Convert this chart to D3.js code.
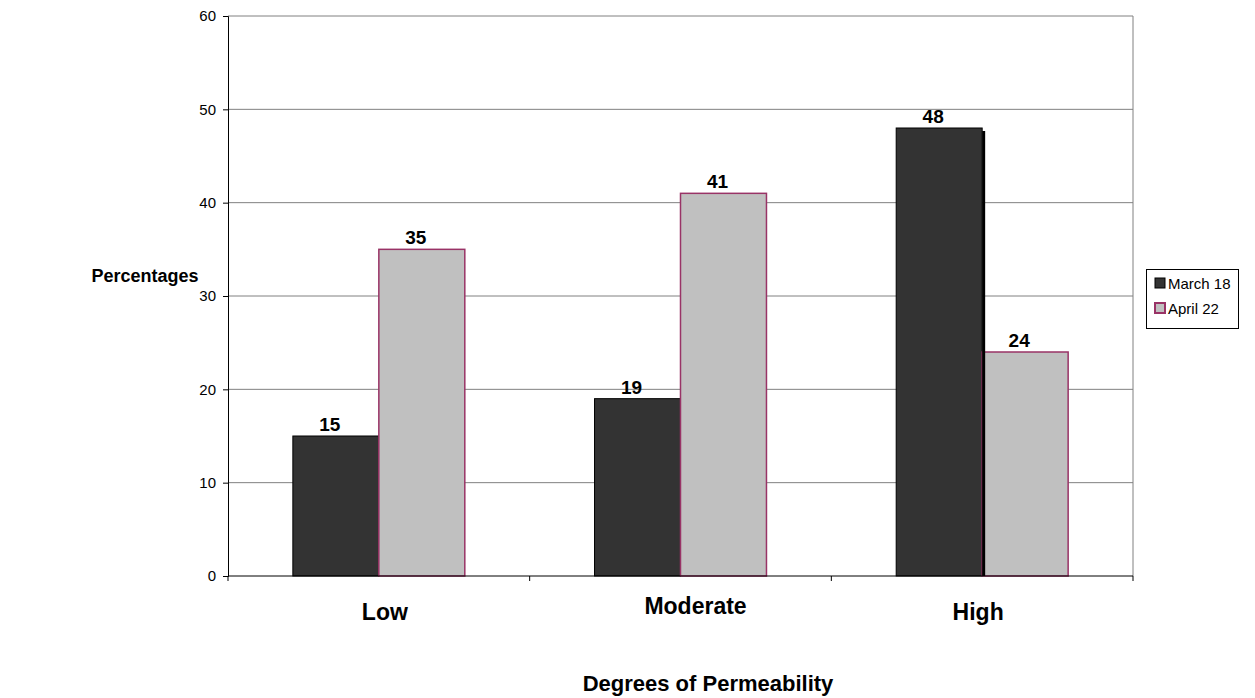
<!DOCTYPE html>
<html><head><meta charset="utf-8">
<script src="https://cdn.jsdelivr.net/npm/d3@7"></script>
<style>body{margin:0;background:#fff;} text{font-family:"Liberation Sans",Arial,sans-serif;}</style>
</head><body>
<svg id="c" width="1255" height="698"></svg>
<script>
const categories = ["Low", "Moderate", "High"];
const seriesNames = ["March 18", "April 22"];
const march18 = [15, 19, 48];
const april22 = [35, 41, 24];
const yTicks = [0, 10, 20, 30, 40, 50, 60];

const svg = d3.select("#c");
const L = 228, R = 1133, T = 16, B = 576;
const x = d3.scaleBand().domain(categories).range([L, R]).paddingInner(0).paddingOuter(0);
const y = d3.scaleLinear().domain([0, 60]).range([B, T]);
const bw = x.bandwidth();
const barW = bw * 0.285;
const off = (bw - 2 * barW) / 2;
const fills = ["#333333", "#c0c0c0"];
const strokes = ["#000000", "#993366"];
const catNudgeX = [6, 15, -4];
const catNudgeY = [0, -6, 0];

// gridlines
svg.append("g").selectAll("line").data(yTicks.slice(1)).join("line")
  .attr("x1", L).attr("x2", R).attr("y1", d => y(d)).attr("y2", d => y(d))
  .attr("stroke", "#808080").attr("stroke-width", 1);
svg.append("line").attr("x1", R).attr("x2", R).attr("y1", T).attr("y2", B).attr("stroke", "#808080");

const data = categories.map((c, i) => ({c, v: [march18[i], april22[i]]}));
data.forEach(d => {
  d.v.forEach((v, s) => {
    const x0 = x(d.c) + off + s * barW;
    svg.append("rect").attr("x", x0).attr("y", y(v)).attr("width", barW).attr("height", B - y(v))
      .attr("fill", fills[s]).attr("stroke", strokes[s]).attr("stroke-width", s ? 1.5 : 1);
    svg.append("text").attr("x", x0 + barW / 2 - 6).attr("y", y(v) - 5).attr("text-anchor", "middle")
      .style("font-size", "19px").attr("font-weight", "bold").text(v);
  });
});
// shadow artifact on tallest bar
{
  const i = 2; const v = march18[i];
  const x0 = x(categories[i]) + off + barW;
  svg.append("rect").attr("x", x0).attr("y", y(v) + 3).attr("width", 3).attr("height", B - y(v) - 3).attr("fill", "#000");
}

// y axis
const ya = svg.append("g").attr("transform", `translate(${L},0)`)
  .call(d3.axisLeft(y).tickValues(yTicks).tickSize(5).tickPadding(7));
ya.attr("font-size", null).attr("font-family", null);
ya.select(".domain").attr("stroke", "#000");
ya.selectAll("text").style("font-size", "15px").attr("fill", "#000");
// x axis
svg.append("line").attr("x1", L).attr("x2", R).attr("y1", B).attr("y2", B).attr("stroke", "#000");
const bounds = categories.map(c => x(c)).concat([R]);
svg.append("g").selectAll("line").data(bounds).join("line")
  .attr("x1", d => d).attr("x2", d => d).attr("y1", B).attr("y2", B + 5).attr("stroke", "#000");
svg.append("g").selectAll("text").data(categories).join("text")
  .attr("x", (d, i) => x(d) + bw / 2 + catNudgeX[i]).attr("y", (d, i) => 620 + catNudgeY[i]).attr("text-anchor", "middle")
  .style("font-size", "23px").attr("font-weight", "bold").text(d => d);

svg.append("text").attr("x", 708).attr("y", 691).attr("text-anchor", "middle")
  .style("font-size", "22px").attr("font-weight", "bold").text("Degrees of Permeability");
svg.append("text").attr("x", 145).attr("y", 282).attr("text-anchor", "middle")
  .style("font-size", "18px").attr("font-weight", "bold").text("Percentages");

// legend
const lg = svg.append("g");
lg.append("rect").attr("x", 1146.5).attr("y", 269.5).attr("width", 92).attr("height", 59)
  .attr("fill", "#fff").attr("stroke", "#000");
seriesNames.forEach((n, i) => {
  const cy = 283 + i * 25;
  lg.append("rect").attr("x", 1155).attr("y", cy - 5).attr("width", 10).attr("height", 10)
    .attr("fill", fills[i]).attr("stroke", strokes[i]).attr("stroke-width", i ? 2 : 1);
  lg.append("text").attr("x", 1168).attr("y", cy + 5.5).style("font-size", "15px").text(n);
});
</script>
</body></html>
